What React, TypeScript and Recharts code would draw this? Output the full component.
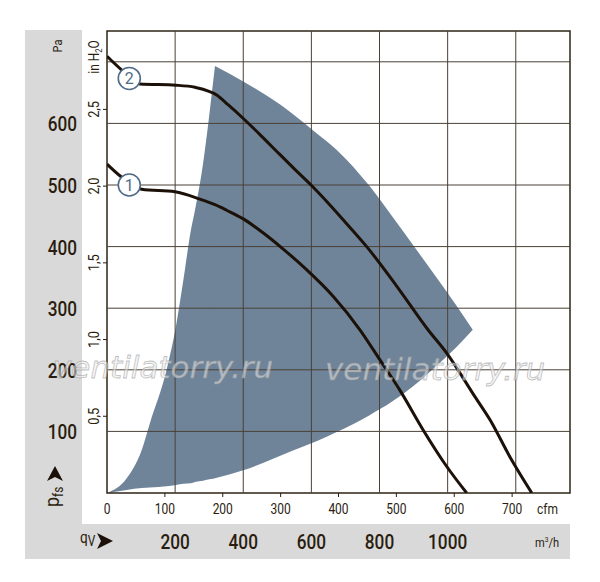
import React from "react";
import {
  ComposedChart,
  Area,
  Line,
  XAxis,
  YAxis,
  ReferenceLine,
  ReferenceArea,
  ReferenceDot,
} from "recharts";

// fan curves (x in cfm, y in Pa)
const curve1Cfm = [0, 25, 60, 117.5, 160.7, 186.6, 206.8, 235.5, 267.3, 301.9, 342, 391, 437, 471.7, 506, 546.5, 587, 621.5];
const curve1Pa = [534, 513, 493, 489, 477, 468, 459, 445, 424, 398, 365, 319, 265, 216, 167, 102, 43, 0];

const curve2Cfm = [0, 25, 57, 119, 152, 189.5, 209.6, 235.5, 267.3, 296, 325, 352.5, 382.4, 411, 448.7, 500.5, 555, 587, 636, 662, 696, 734];
const curve2Pa = [709, 687, 664, 662, 658.6, 646, 630, 608, 579, 552, 525, 500, 470.5, 440.5, 400, 336, 264.6, 227, 156, 118.5, 59, 0];

// shaded working range, rising left flank up to the peak ...
const flankCfm = [0, 34, 60, 74, 103, 119, 132, 145, 152, 166, 175, 183.7, 186.6];
const flankLow = [0, 5, 8, 9, 11, 13, 15, 16, 18, 20, 22, 23, 24];
const flankHigh = [0, 24, 70, 113, 200, 270, 346, 427, 459, 535, 600, 670, 693];
// ... and from the peak to the right corner
const bodyCfm = [186.6, 235.5, 316, 362, 397, 453, 492, 530, 570, 604, 632];
const bodyLow = [24, 37, 67, 84, 99, 126, 148, 174, 207, 237, 265];
const bodyHigh = [693, 668, 619, 584, 557, 499, 450, 401, 349, 304, 265];

const cfmTicks = [0, 100, 200, 300, 400, 500, 600, 700];
const m3Ticks = [200, 400, 600, 800, 1000, 1200];
const m3Labels = [200, 400, 600, 800, 1000];
const paTicks = [100, 200, 300, 400, 500, 600, 700];
const paLabels = [100, 200, 300, 400, 500, 600];
const inTicks = [0.5, 1, 1.5, 2, 2.5];

const PA_PER_INH2O = 249.09;
const M3H_PER_CFM = 1.699;
const CFM_MAX = 800;
const PA_MAX = 750;

const curve1 = curve1Cfm.map((cfm, i) => ({ cfm, pa: curve1Pa[i] }));
const curve2 = curve2Cfm.map((cfm, i) => ({ cfm, pa: curve2Pa[i] }));
const flank = flankCfm.map((cfm, i) => ({ cfm, range: [flankLow[i], flankHigh[i]] }));
const body = bodyCfm.map((cfm, i) => ({ cfm, range: [bodyLow[i], bodyHigh[i]] }));
const m3TickCfm = m3Ticks.map((v) => v / M3H_PER_CFM);

const FONT = "Roboto, 'Liberation Sans', Arial, sans-serif";
const INK = "#2a1d0f";
const BLUE = "#4f6b88";
const AREA = "#6f8499";
const GRID = "#4a4036";

// condensed look: squeeze the glyphs along the text direction
const NText = ({ x, y, size, anchor = "start", rotate = 0, weight = 400, sx = 0.82, children }: any) => (
  <text
    transform={`translate(${x}, ${y}) rotate(${rotate}) scale(${sx}, 1)`}
    textAnchor={anchor}
    fontSize={size}
    fontWeight={weight}
    fontFamily={FONT}
    fill={INK}
  >
    {children}
  </text>
);

const PaTick = (props: any) => {
  const { y, payload } = props;
  if (!paLabels.includes(payload.value)) return <g />;
  return (
    <NText x={77} y={y + 8} size={20} anchor="end" weight={500} sx={0.86}>
      {payload.value}
    </NText>
  );
};

const InTick = (props: any) => {
  const { y, payload } = props;
  const label = payload.value.toFixed(1).replace(".", ",");
  return (
    <g>
      <line x1={103} x2={107} y1={y} y2={y} stroke={INK} strokeWidth={1} />
      <NText x={99} y={y} size={15} anchor="middle" rotate={-90} sx={0.85}>
        {label}
      </NText>
    </g>
  );
};

const CfmTick = (props: any) => {
  const { x, payload } = props;
  return (
    <g>
      {payload.value > 0 && <line x1={x} x2={x} y1={493} y2={497} stroke={INK} strokeWidth={1} />}
      <NText x={x} y={514} size={15} anchor="middle" sx={0.8}>
        {payload.value}
      </NText>
    </g>
  );
};

const M3Tick = (props: any) => {
  const { x, payload } = props;
  const m3 = Math.round(payload.value * M3H_PER_CFM);
  if (!m3Labels.includes(m3)) return <g />;
  return (
    <NText x={x} y={549} size={21} anchor="middle" weight={500} sx={0.82}>
      {m3}
    </NText>
  );
};

export default function App() {
  return (
    <div style={{ position: "absolute", left: 0, top: 0, width: 600, height: 582, background: "#fff" }}>
      <div style={{ position: "absolute", left: 25, top: 30, width: 545, height: 529, background: "#d9d9d9" }} />
      <div style={{ position: "absolute", left: 82, top: 30, width: 488, height: 494, background: "#fff" }} />
      <div style={{ position: "absolute", left: 0, top: 0 }}>
        <ComposedChart width={600} height={582} margin={{ top: 31, right: 30, bottom: 29, left: 47 }}>
          <XAxis
            xAxisId="cfm"
            dataKey="cfm"
            type="number"
            domain={[0, CFM_MAX]}
            ticks={cfmTicks}
            tick={CfmTick}
            interval={0}
            tickLine={false}
            axisLine={false}
            height={30}
            allowDataOverflow
          />
          <XAxis
            xAxisId="m3"
            dataKey="cfm"
            type="number"
            domain={[0, CFM_MAX]}
            ticks={m3TickCfm}
            tick={M3Tick}
            interval={0}
            tickLine={false}
            axisLine={false}
            height={30}
            allowDataOverflow
          />
          <YAxis
            yAxisId="pa"
            type="number"
            domain={[0, PA_MAX]}
            ticks={paTicks}
            tick={PaTick}
            interval={0}
            tickLine={false}
            axisLine={false}
            width={30}
            allowDataOverflow
          />
          <YAxis
            yAxisId="in"
            type="number"
            domain={[0, PA_MAX / PA_PER_INH2O]}
            ticks={inTicks}
            tick={InTick}
            interval={0}
            tickLine={false}
            axisLine={false}
            width={30}
            allowDataOverflow
          />
          <Area
            xAxisId="cfm"
            yAxisId="pa"
            data={flank}
            dataKey="range"
            type="monotone"
            fill={AREA}
            fillOpacity={1}
            stroke="none"
            isAnimationActive={false}
          />
          <Area
            xAxisId="cfm"
            yAxisId="pa"
            data={body}
            dataKey="range"
            type="monotone"
            fill={AREA}
            fillOpacity={1}
            stroke="none"
            isAnimationActive={false}
          />
          {m3TickCfm.map((v) => (
            <ReferenceLine key={`v${v}`} xAxisId="cfm" yAxisId="pa" x={v} stroke={GRID} strokeWidth={1} />
          ))}
          {paTicks.map((v) => (
            <ReferenceLine key={`h${v}`} xAxisId="cfm" yAxisId="pa" y={v} stroke={GRID} strokeWidth={1} />
          ))}
          <ReferenceArea
            xAxisId="cfm"
            yAxisId="pa"
            x1={0}
            x2={CFM_MAX}
            y1={0}
            y2={PA_MAX}
            fill="none"
            stroke="#2e2414"
            strokeWidth={1.5}
          />
          <Line
            xAxisId="cfm"
            yAxisId="pa"
            data={curve1}
            dataKey="pa"
            type="monotone"
            stroke="#1c1108"
            strokeWidth={3}
            dot={false}
            isAnimationActive={false}
          />
          <Line
            xAxisId="cfm"
            yAxisId="pa"
            data={curve2}
            dataKey="pa"
            type="monotone"
            stroke="#1c1108"
            strokeWidth={3}
            dot={false}
            isAnimationActive={false}
          />
          <ReferenceDot
            xAxisId="cfm"
            yAxisId="pa"
            x={38.5}
            y={500}
            r={11}
            fill="#fff"
            stroke={BLUE}
            strokeWidth={1.6}
            label={{ value: "1", position: "center", fill: BLUE, fontSize: 16, fontFamily: FONT }}
          />
          <ReferenceDot
            xAxisId="cfm"
            yAxisId="pa"
            x={38.5}
            y={673}
            r={11}
            fill="#fff"
            stroke={BLUE}
            strokeWidth={1.6}
            label={{ value: "2", position: "center", fill: BLUE, fontSize: 16, fontFamily: FONT }}
          />
        </ComposedChart>
      </div>
      <svg width={600} height={582} style={{ position: "absolute", left: 0, top: 0, pointerEvents: "none" }}>
        <NText x={62} y={46} size={13} anchor="middle" rotate={-90} sx={0.85}>
          Pa
        </NText>
        <NText x={99} y={57} size={14} anchor="middle" rotate={-90} sx={0.85}>
          in H<tspan fontSize={9} dy={3}>2</tspan>
          <tspan dy={-3}>O</tspan>
        </NText>
        <NText x={59} y={507} size={21} rotate={-90} sx={0.85}>
          p<tspan fontSize={14} dy={4}>fs</tspan>
        </NText>
        <path d="M55,466 L63,481 L55,477 L47,481 Z" fill="#1c1108" />
        <NText x={80} y={543} size={16} sx={0.85}>
          q<tspan fontSize={14} dy={3}>V</tspan>
        </NText>
        <path d="M113,541 L97,533 L101,541 L97,549 Z" fill="#1c1108" />
        <NText x={537} y={514} size={15} sx={0.8}>
          cfm
        </NText>
        <NText x={535} y={547} size={13} sx={0.85}>
          m<tspan fontSize={8} dy={-5}>3</tspan>
          <tspan dy={5}>/h</tspan>
        </NText>
        <g
          fontFamily="'DejaVu Sans', sans-serif"
          fontStyle="italic"
          fontSize={31}
          fill="rgba(236,236,236,0.55)"
          stroke="rgba(150,150,150,0.6)"
          strokeWidth={0.8}
        >
          <text x={53} y={378}>ventilatorry.ru</text>
          <text x={325} y={380}>ventilatorry.ru</text>
        </g>
      </svg>
    </div>
  );
}
